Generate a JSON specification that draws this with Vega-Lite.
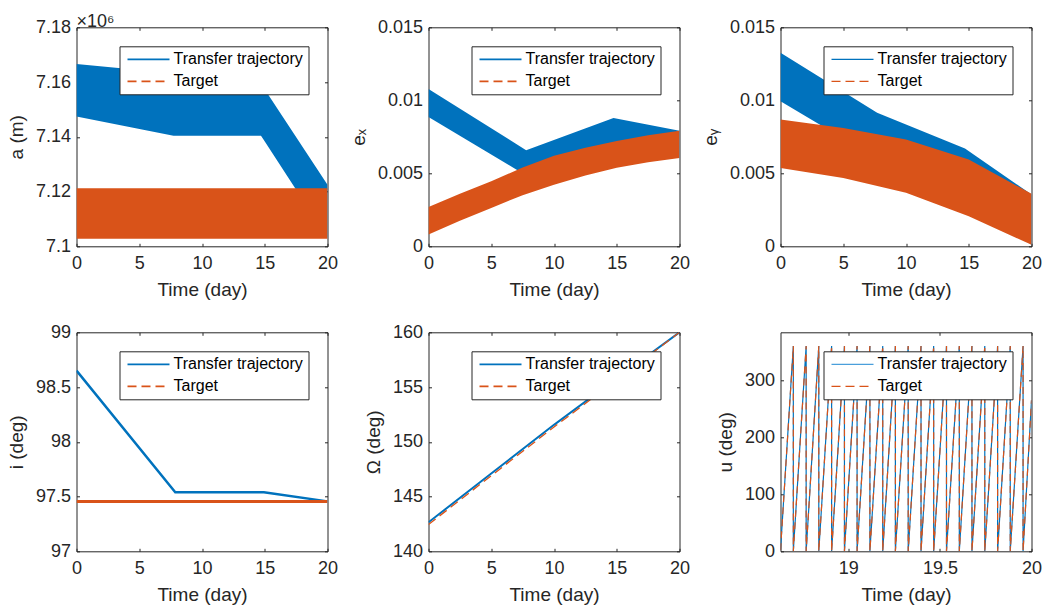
{
  "$schema": "https://vega.github.io/schema/vega-lite/v6.json",
  "autosize": {"type": "none"},
  "padding": {"left": 76.5, "top": 27.3, "right": 969.5, "bottom": 585.7},
  "background": "white",
  "config": {
    "font": "Liberation Sans",
    "view": {"stroke": "#262626", "strokeWidth": 1},
    "axis": {"domain": false, "grid": false, "ticks": true, "tickSize": -3, "tickColor": "#262626", "tickWidth": 1, "labelColor": "#262626", "labelFontSize": 18, "titleColor": "#262626", "titleFontSize": 19, "titleFontWeight": "normal", "labelFlush": false, "labelOverlap": false, "format": ".4~g"},
    "axisX": {"labelPadding": 11, "titlePadding": 8},
    "axisY": {"labelPadding": 9, "titlePadding": 9},
    "legend": {"orient": "top-right", "offset": 19, "symbolType": "M-1,0H7.4", "symbolSize": 100, "symbolStrokeWidth": 1.5, "labelFontSize": 16, "labelColor": "#000000", "labelOffset": 33, "padding": 5, "rowPadding": 6, "strokeColor": "#262626", "fillColor": "white", "cornerRadius": 0, "labelLimit": 400},
    "title": {"fontSize": 18, "fontWeight": "normal", "color": "#262626", "anchor": "start", "frame": "group", "offset": -13}
  },
  "datasets": {
    "leg": [
      {"s": "Transfer trajectory", "t": 0, "v": 0},
      {"s": "Target", "t": 0, "v": 0}
    ],
    "a_tr": [
      {"t": 0, "lo": 7147400, "hi": 7166600},
      {"t": 7.73, "lo": 7140400, "hi": 7163200},
      {"t": 14.7, "lo": 7140400, "hi": 7158200},
      {"t": 14.9, "lo": 7139000, "hi": 7158000},
      {"t": 20, "lo": 7103000, "hi": 7122500}
    ],
    "a_tg": [
      {"t": 0, "lo": 7102800, "hi": 7121200},
      {"t": 20, "lo": 7102800, "hi": 7121200}
    ],
    "ex_tr": [
      {"t": 0, "lo": 0.00886, "hi": 0.01078},
      {"t": 7.78, "lo": 0.00485, "hi": 0.00658},
      {"t": 14.74, "lo": 0.0069, "hi": 0.00879},
      {"t": 20, "lo": 0.00605, "hi": 0.00792}
    ],
    "ex_tg": [
      {"t": 0, "lo": 0.0008, "hi": 0.00269},
      {"t": 2.5, "lo": 0.00175, "hi": 0.0036},
      {"t": 5, "lo": 0.00263, "hi": 0.00445},
      {"t": 7.5, "lo": 0.0035, "hi": 0.0054},
      {"t": 10, "lo": 0.00422, "hi": 0.0062},
      {"t": 12.5, "lo": 0.00485, "hi": 0.00675},
      {"t": 15, "lo": 0.00538, "hi": 0.00722},
      {"t": 17.5, "lo": 0.00575, "hi": 0.0076},
      {"t": 20, "lo": 0.00605, "hi": 0.00792}
    ],
    "ey_tr": [
      {"t": 0, "lo": 0.00993, "hi": 0.01325},
      {"t": 7.7, "lo": 0.006, "hi": 0.00914},
      {"t": 14.7, "lo": 0.0034, "hi": 0.0067},
      {"t": 20, "lo": 0.0001, "hi": 0.00354}
    ],
    "ey_tg": [
      {"t": 0, "lo": 0.00537, "hi": 0.00868},
      {"t": 5, "lo": 0.00468, "hi": 0.0081},
      {"t": 10, "lo": 0.00366, "hi": 0.00731},
      {"t": 15, "lo": 0.00205, "hi": 0.00594},
      {"t": 20, "lo": 0.0001, "hi": 0.0036}
    ],
    "i_tr": [
      {"t": 0, "v": 98.65},
      {"t": 7.87, "v": 97.54},
      {"t": 14.93, "v": 97.54},
      {"t": 20, "v": 97.456}
    ],
    "i_tg": [
      {"t": 0, "lo": 97.44, "hi": 97.468},
      {"t": 20, "lo": 97.44, "hi": 97.468}
    ],
    "o_tr": [
      {"t": 0, "v": 142.65},
      {"t": 5, "v": 147.1},
      {"t": 10, "v": 151.55},
      {"t": 15, "v": 155.8},
      {"t": 20, "v": 160}
    ],
    "o_tg": [
      {"t": 0, "v": 142.45},
      {"t": 5, "v": 146.9},
      {"t": 10, "v": 151.35},
      {"t": 15, "v": 155.65},
      {"t": 20, "v": 160}
    ],
    "u": [
      {"k": 0, "t": 18.63, "u": 2},
      {"k": 1, "t": 18.7, "u": 360},
      {"k": 2, "t": 18.7, "u": 0},
      {"k": 3, "t": 18.77, "u": 360},
      {"k": 4, "t": 18.77, "u": 0},
      {"k": 5, "t": 18.839, "u": 360},
      {"k": 6, "t": 18.839, "u": 0},
      {"k": 7, "t": 18.909, "u": 360},
      {"k": 8, "t": 18.909, "u": 0},
      {"k": 9, "t": 18.979, "u": 360},
      {"k": 10, "t": 18.979, "u": 0},
      {"k": 11, "t": 19.048, "u": 360},
      {"k": 12, "t": 19.048, "u": 0},
      {"k": 13, "t": 19.118, "u": 360},
      {"k": 14, "t": 19.118, "u": 0},
      {"k": 15, "t": 19.188, "u": 360},
      {"k": 16, "t": 19.188, "u": 0},
      {"k": 17, "t": 19.257, "u": 360},
      {"k": 18, "t": 19.257, "u": 0},
      {"k": 19, "t": 19.327, "u": 360},
      {"k": 20, "t": 19.327, "u": 0},
      {"k": 21, "t": 19.397, "u": 360},
      {"k": 22, "t": 19.397, "u": 0},
      {"k": 23, "t": 19.466, "u": 360},
      {"k": 24, "t": 19.466, "u": 0},
      {"k": 25, "t": 19.536, "u": 360},
      {"k": 26, "t": 19.536, "u": 0},
      {"k": 27, "t": 19.606, "u": 360},
      {"k": 28, "t": 19.606, "u": 0},
      {"k": 29, "t": 19.675, "u": 360},
      {"k": 30, "t": 19.675, "u": 0},
      {"k": 31, "t": 19.745, "u": 360},
      {"k": 32, "t": 19.745, "u": 0},
      {"k": 33, "t": 19.815, "u": 360},
      {"k": 34, "t": 19.815, "u": 0},
      {"k": 35, "t": 19.884, "u": 360},
      {"k": 36, "t": 19.884, "u": 0},
      {"k": 37, "t": 19.954, "u": 360},
      {"k": 38, "t": 19.954, "u": 0},
      {"k": 39, "t": 20, "u": 265}
    ]
  },
  "columns": 3,
  "spacing": {"row": 86, "column": 101},
  "bounds": "flush",
  "resolve": {"scale": {"color": "independent", "strokeDash": "independent"}, "legend": {"color": "independent", "strokeDash": "independent"}},
  "concat": [
    {
      "width": 251, "height": 219,
      "title": {"text": "×10⁶"},
      "resolve": {"axis": {"x": "independent", "y": "independent"}},
      "layer": [
        {
          "data": {"name": "a_tr"},
          "mark": {"type": "area", "clip": true, "color": "#0072BD"},
          "encoding": {
            "x": {"field": "t", "type": "quantitative", "scale": {"domain": [0, 20], "nice": false, "zero": false}, "axis": {"title": "Time (day)", "values": [0, 5, 10, 15, 20]}},
            "y": {"field": "lo", "type": "quantitative", "scale": {"domain": [7100000, 7180000], "nice": false, "zero": false}, "axis": {"title": "a (m)", "values": [7100000, 7120000, 7140000, 7160000, 7180000], "labelExpr": "format(datum.value / 1000000, '.3~g')"}},
            "y2": {"field": "hi"}
          }
        },
        {
          "data": {"name": "a_tg"},
          "mark": {"type": "area", "clip": true, "color": "#D95319"},
          "encoding": {
            "x": {"field": "t", "type": "quantitative", "axis": null},
            "y": {"field": "lo", "type": "quantitative", "axis": null},
            "y2": {"field": "hi"}
          }
        },
        {
          "data": {"name": "leg"},
          "mark": {"type": "line", "clip": true},
          "encoding": {
            "x": {"field": "t", "type": "quantitative", "axis": null},
            "y": {"field": "v", "type": "quantitative", "axis": null},
            "color": {"field": "s", "type": "nominal", "scale": {"domain": ["Transfer trajectory", "Target"], "range": ["#0072BD", "#D95319"]}, "legend": {"title": null, "symbolStrokeWidth": 1.8}},
            "strokeDash": {"field": "s", "type": "nominal", "scale": {"domain": ["Transfer trajectory", "Target"], "range": [[1, 0], [9, 5]]}, "legend": {"title": null, "symbolStrokeWidth": 1.8}}
          }
        },
        {
          "data": {"name": "a_tr"},
          "mark": {"type": "point", "opacity": 0},
          "encoding": {
            "x": {"field": "t", "type": "quantitative", "axis": {"orient": "top", "labels": false, "title": null, "values": [0, 5, 10, 15, 20]}},
            "y": {"field": "lo", "type": "quantitative", "axis": {"orient": "right", "labels": false, "title": null, "values": [7100000, 7120000, 7140000, 7160000, 7180000]}}
          }
        }
      ]
    },
    {
      "width": 251, "height": 219,
      "resolve": {"axis": {"x": "independent", "y": "independent"}},
      "layer": [
        {
          "data": {"name": "ex_tr"},
          "mark": {"type": "area", "clip": true, "color": "#0072BD"},
          "encoding": {
            "x": {"field": "t", "type": "quantitative", "scale": {"domain": [0, 20], "nice": false, "zero": false}, "axis": {"title": "Time (day)", "values": [0, 5, 10, 15, 20]}},
            "y": {"field": "lo", "type": "quantitative", "scale": {"domain": [0, 0.015], "nice": false, "zero": false}, "axis": {"title": "eₓ", "values": [0, 0.005, 0.01, 0.015]}},
            "y2": {"field": "hi"}
          }
        },
        {
          "data": {"name": "ex_tg"},
          "mark": {"type": "area", "clip": true, "color": "#D95319"},
          "encoding": {
            "x": {"field": "t", "type": "quantitative", "axis": null},
            "y": {"field": "lo", "type": "quantitative", "axis": null},
            "y2": {"field": "hi"}
          }
        },
        {
          "data": {"name": "leg"},
          "mark": {"type": "line", "clip": true},
          "encoding": {
            "x": {"field": "t", "type": "quantitative", "axis": null},
            "y": {"field": "v", "type": "quantitative", "axis": null},
            "color": {"field": "s", "type": "nominal", "scale": {"domain": ["Transfer trajectory", "Target"], "range": ["#0072BD", "#D95319"]}, "legend": {"title": null, "symbolStrokeWidth": 1.8}},
            "strokeDash": {"field": "s", "type": "nominal", "scale": {"domain": ["Transfer trajectory", "Target"], "range": [[1, 0], [9, 5]]}, "legend": {"title": null, "symbolStrokeWidth": 1.8}}
          }
        },
        {
          "data": {"name": "ex_tr"},
          "mark": {"type": "point", "opacity": 0},
          "encoding": {
            "x": {"field": "t", "type": "quantitative", "axis": {"orient": "top", "labels": false, "title": null, "values": [0, 5, 10, 15, 20]}},
            "y": {"field": "lo", "type": "quantitative", "axis": {"orient": "right", "labels": false, "title": null, "values": [0, 0.005, 0.01, 0.015]}}
          }
        }
      ]
    },
    {
      "width": 251, "height": 219,
      "resolve": {"axis": {"x": "independent", "y": "independent"}},
      "layer": [
        {
          "data": {"name": "ey_tr"},
          "mark": {"type": "area", "clip": true, "color": "#0072BD"},
          "encoding": {
            "x": {"field": "t", "type": "quantitative", "scale": {"domain": [0, 20], "nice": false, "zero": false}, "axis": {"title": "Time (day)", "values": [0, 5, 10, 15, 20]}},
            "y": {"field": "lo", "type": "quantitative", "scale": {"domain": [0, 0.015], "nice": false, "zero": false}, "axis": {"title": "eᵧ", "values": [0, 0.005, 0.01, 0.015]}},
            "y2": {"field": "hi"}
          }
        },
        {
          "data": {"name": "ey_tg"},
          "mark": {"type": "area", "clip": true, "color": "#D95319"},
          "encoding": {
            "x": {"field": "t", "type": "quantitative", "axis": null},
            "y": {"field": "lo", "type": "quantitative", "axis": null},
            "y2": {"field": "hi"}
          }
        },
        {
          "data": {"name": "leg"},
          "mark": {"type": "line", "clip": true},
          "encoding": {
            "x": {"field": "t", "type": "quantitative", "axis": null},
            "y": {"field": "v", "type": "quantitative", "axis": null},
            "color": {"field": "s", "type": "nominal", "scale": {"domain": ["Transfer trajectory", "Target"], "range": ["#0072BD", "#D95319"]}, "legend": {"title": null, "symbolStrokeWidth": 1.2}},
            "strokeDash": {"field": "s", "type": "nominal", "scale": {"domain": ["Transfer trajectory", "Target"], "range": [[1, 0], [9, 5]]}, "legend": {"title": null, "symbolStrokeWidth": 1.2}}
          }
        },
        {
          "data": {"name": "ey_tr"},
          "mark": {"type": "point", "opacity": 0},
          "encoding": {
            "x": {"field": "t", "type": "quantitative", "axis": {"orient": "top", "labels": false, "title": null, "values": [0, 5, 10, 15, 20]}},
            "y": {"field": "lo", "type": "quantitative", "axis": {"orient": "right", "labels": false, "title": null, "values": [0, 0.005, 0.01, 0.015]}}
          }
        }
      ]
    },
    {
      "width": 251, "height": 219,
      "resolve": {"axis": {"x": "independent", "y": "independent"}},
      "layer": [
        {
          "data": {"name": "i_tr"},
          "mark": {"type": "line", "clip": true, "strokeWidth": 2.5, "color": "#0072BD"},
          "encoding": {
            "x": {"field": "t", "type": "quantitative", "scale": {"domain": [0, 20], "nice": false, "zero": false}, "axis": {"title": "Time (day)", "values": [0, 5, 10, 15, 20]}},
            "y": {"field": "v", "type": "quantitative", "scale": {"domain": [97, 99], "nice": false, "zero": false}, "axis": {"title": "i (deg)", "values": [97, 97.5, 98, 98.5, 99]}}
          }
        },
        {
          "data": {"name": "i_tg"},
          "mark": {"type": "area", "clip": true, "color": "#D95319"},
          "encoding": {
            "x": {"field": "t", "type": "quantitative", "axis": null},
            "y": {"field": "lo", "type": "quantitative", "axis": null},
            "y2": {"field": "hi"}
          }
        },
        {
          "data": {"name": "leg"},
          "mark": {"type": "line", "clip": true},
          "encoding": {
            "x": {"field": "t", "type": "quantitative", "axis": null},
            "y": {"field": "v", "type": "quantitative", "axis": null},
            "color": {"field": "s", "type": "nominal", "scale": {"domain": ["Transfer trajectory", "Target"], "range": ["#0072BD", "#D95319"]}, "legend": {"title": null, "symbolStrokeWidth": 1.8}},
            "strokeDash": {"field": "s", "type": "nominal", "scale": {"domain": ["Transfer trajectory", "Target"], "range": [[1, 0], [9, 5]]}, "legend": {"title": null, "symbolStrokeWidth": 1.8}}
          }
        },
        {
          "data": {"name": "i_tr"},
          "mark": {"type": "point", "opacity": 0},
          "encoding": {
            "x": {"field": "t", "type": "quantitative", "axis": {"orient": "top", "labels": false, "title": null, "values": [0, 5, 10, 15, 20]}},
            "y": {"field": "v", "type": "quantitative", "axis": {"orient": "right", "labels": false, "title": null, "values": [97, 97.5, 98, 98.5, 99]}}
          }
        }
      ]
    },
    {
      "width": 251, "height": 219,
      "resolve": {"axis": {"x": "independent", "y": "independent"}},
      "layer": [
        {
          "data": {"name": "o_tr"},
          "mark": {"type": "line", "clip": true, "strokeWidth": 2, "color": "#0072BD"},
          "encoding": {
            "x": {"field": "t", "type": "quantitative", "scale": {"domain": [0, 20], "nice": false, "zero": false}, "axis": {"title": "Time (day)", "values": [0, 5, 10, 15, 20]}},
            "y": {"field": "v", "type": "quantitative", "scale": {"domain": [140, 160], "nice": false, "zero": false}, "axis": {"title": "Ω (deg)", "values": [140, 145, 150, 155, 160]}}
          }
        },
        {
          "data": {"name": "o_tg"},
          "mark": {"type": "line", "clip": true, "strokeWidth": 1.3, "strokeDash": [9, 5], "color": "#D95319"},
          "encoding": {
            "x": {"field": "t", "type": "quantitative", "axis": null},
            "y": {"field": "v", "type": "quantitative", "axis": null}
          }
        },
        {
          "data": {"name": "leg"},
          "mark": {"type": "line", "clip": true},
          "encoding": {
            "x": {"field": "t", "type": "quantitative", "axis": null},
            "y": {"field": "v", "type": "quantitative", "axis": null},
            "color": {"field": "s", "type": "nominal", "scale": {"domain": ["Transfer trajectory", "Target"], "range": ["#0072BD", "#D95319"]}, "legend": {"title": null, "symbolStrokeWidth": 1.8}},
            "strokeDash": {"field": "s", "type": "nominal", "scale": {"domain": ["Transfer trajectory", "Target"], "range": [[1, 0], [9, 5]]}, "legend": {"title": null, "symbolStrokeWidth": 1.8}}
          }
        },
        {
          "data": {"name": "o_tr"},
          "mark": {"type": "point", "opacity": 0},
          "encoding": {
            "x": {"field": "t", "type": "quantitative", "axis": {"orient": "top", "labels": false, "title": null, "values": [0, 5, 10, 15, 20]}},
            "y": {"field": "v", "type": "quantitative", "axis": {"orient": "right", "labels": false, "title": null, "values": [140, 145, 150, 155, 160]}}
          }
        }
      ]
    },
    {
      "width": 251, "height": 219,
      "resolve": {"axis": {"x": "independent", "y": "independent"}},
      "layer": [
        {
          "data": {"name": "u"},
          "mark": {"type": "line", "clip": true, "strokeWidth": 1.2, "color": "#0072BD"},
          "encoding": {
            "x": {"field": "t", "type": "quantitative", "scale": {"domain": [18.63, 20], "nice": false, "zero": false}, "axis": {"title": "Time (day)", "values": [19, 19.5, 20]}},
            "y": {"field": "u", "type": "quantitative", "scale": {"domain": [0, 384], "nice": false, "zero": false}, "axis": {"title": "u (deg)", "values": [0, 100, 200, 300]}},
            "order": {"field": "k", "type": "quantitative"}
          }
        },
        {
          "data": {"name": "u"},
          "mark": {"type": "line", "clip": true, "strokeWidth": 1.2, "strokeDash": [7, 5], "color": "#D95319"},
          "encoding": {
            "x": {"field": "t", "type": "quantitative", "axis": null},
            "y": {"field": "u", "type": "quantitative", "axis": null},
            "order": {"field": "k", "type": "quantitative"}
          }
        },
        {
          "data": {"name": "leg"},
          "mark": {"type": "line", "clip": true},
          "encoding": {
            "x": {"field": "t", "type": "quantitative", "axis": null},
            "y": {"field": "v", "type": "quantitative", "axis": null},
            "color": {"field": "s", "type": "nominal", "scale": {"domain": ["Transfer trajectory", "Target"], "range": ["#4A9FDB", "#D95319"]}, "legend": {"title": null, "symbolStrokeWidth": 1.2}},
            "strokeDash": {"field": "s", "type": "nominal", "scale": {"domain": ["Transfer trajectory", "Target"], "range": [[1, 0], [9, 5]]}, "legend": {"title": null, "symbolStrokeWidth": 1.2}}
          }
        },
        {
          "data": {"name": "u"},
          "mark": {"type": "point", "opacity": 0},
          "encoding": {
            "x": {"field": "t", "type": "quantitative", "axis": {"orient": "top", "labels": false, "title": null, "values": [19, 19.5, 20]}},
            "y": {"field": "u", "type": "quantitative", "axis": {"orient": "right", "labels": false, "title": null, "values": [0, 100, 200, 300]}}
          }
        }
      ]
    }
  ]
}
